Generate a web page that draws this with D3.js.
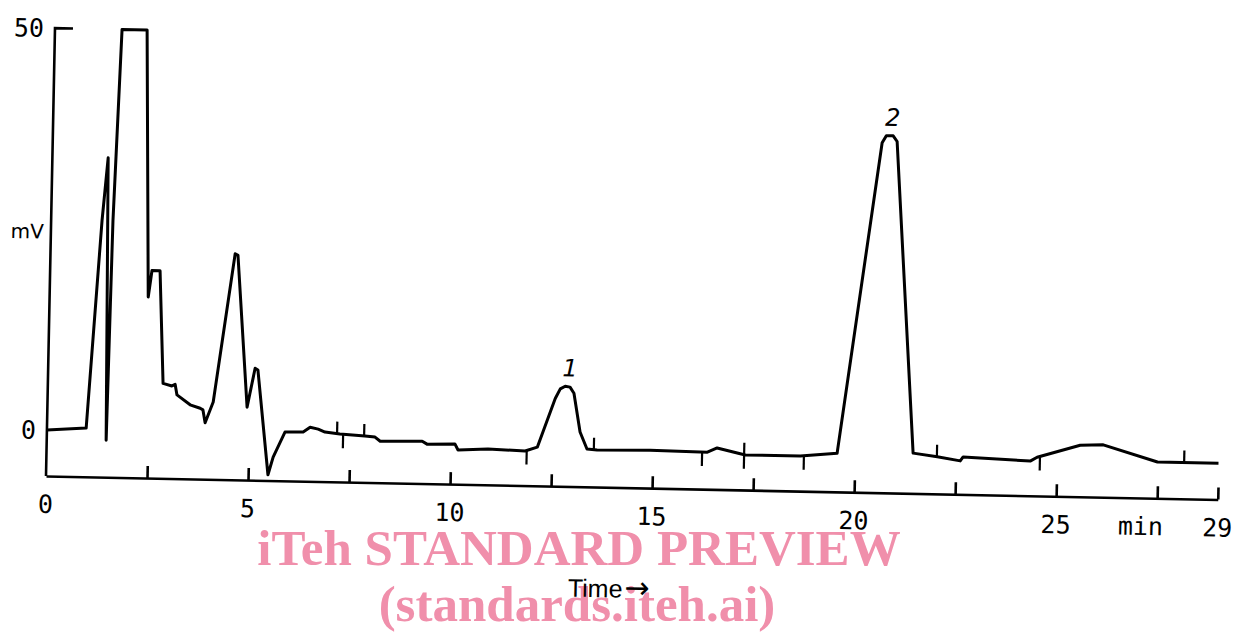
<!DOCTYPE html>
<meta charset="utf-8">
<style>
    body { margin: 0; background: #fff; }
    .trace { fill: none; stroke: #000; stroke-width: 3; stroke-linejoin: round; }
    .axis path, .axis line { stroke: #000; stroke-width: 2.6; fill: none; }
    .mark { stroke: #000; stroke-width: 2.2; }
    .lab { font-family: "DejaVu Sans Mono", monospace; font-size: 25px; fill: #000; }
    .peak { font-family: "DejaVu Sans", sans-serif; font-style: italic; font-size: 24px; fill: #000; }
    .stamp { font-family: "Liberation Serif", "Times New Roman", serif; font-weight: bold; font-size: 51px; fill: #f08fab; }
</style>
<svg width="1235" height="632"></svg>
<script src="https://d3js.org/d3.v7.min.js"></script>
<script>

// chromatogram trace (min / mV)
var time = [0, 0.97, 1.26, 1.38, 1.47, 1.53, 1.66, 2.28, 2.44, 2.52, 2.72, 2.85, 3.07, 3.15, 3.20,
    3.53, 3.78, 3.85, 3.91, 4.10, 4.57, 4.64, 4.94, 5.12, 5.19, 5.49, 5.61, 5.89, 6.34, 6.51,
    6.71, 6.88, 7.25, 7.87, 8.12, 8.25, 9.29, 9.41, 10.10, 10.18, 10.92, 11.84, 12.14, 12.56,
    12.68, 12.80, 12.92, 13.02, 13.19, 13.37, 13.62, 14.93, 16.17, 16.35, 16.59, 17.29, 18.65,
    19.56, 20.52, 20.62, 20.79, 20.89, 21.44, 22.04, 22.61, 22.68, 24.34, 24.51, 25.57, 26.14,
    27.49, 29];
var signal = [0, 0.35, 26.2, 34.0, -1.1, 26.2, 50, 50, 16.8, 20.1, 20.1, 6.1, 5.8, 6.0, 4.7,
    3.5, 3.1, 2.9, 1.3, 3.9, 22.4, 22.2, 3.35, 8.2, 8.0, -5.0, -2.8, 0.35, 0.4, 1.0,
    0.8, 0.45, 0.25, 0.05, -0.05, -0.55, -0.45, -0.8, -0.7, -1.45, -1.25, -1.4, -0.9, 5.2,
    6.4, 6.75, 6.65, 5.9, 1.1, -1.0, -1.1, -1.0, -1.1, -1.1, -0.55, -1.35, -1.35,
    -0.9, 37.8, 38.7, 38.7, 38.0, -0.7, -1.1, -1.55, -1.05, -1.4, -0.9, 0.7, 0.8,
    -1.2, -1.2];

// integrator event marks: 1 = up, -1 = down, 0 = both
var markTimes = [7.18, 7.33, 7.85, 11.88, 13.54, 16.22, 17.26, 18.74, 22.03, 24.58, 28.15];
var markSides = [1, -1, 1, -1, 1, -1, 0, -1, 1, -1, 1];

var peakNames = ["1", "2"];
var peakTimes = [12.86, 20.72];
var peakHeights = [6.75, 38.7];

var xTickValues = [2.5, 5, 7.5, 10, 12.5, 15, 17.5, 20, 22.5, 25, 27.5, 29];
var xLabelValues = [0, 5, 10, 15, 20, 25, 29];
var yLabelValues = [0, 50];

var svg = d3.select("svg"),
    margin = {top: 28, left: 46},
    width = 1172,
    height = 448;

// watermark sits under the chart
svg.append("text").attr("class", "stamp")
    .attr("x", 579).attr("y", 565)
    .attr("text-anchor", "middle")
    .text("iTeh STANDARD PREVIEW");
svg.append("text").attr("class", "stamp")
    .attr("x", 577).attr("y", 621)
    .attr("text-anchor", "middle")
    .text("(standards.iteh.ai)");

// the scanned chart is tilted a little
var g = svg.append("g")
    .attr("transform", "translate(" + margin.left + "," + margin.top + ") rotate(1.15,0," + height + ")");

var x = d3.scaleLinear().domain([0, 29]).range([0, width]);
var y = d3.scaleLinear().domain([-5.71, 50]).range([height, 0]);

// x axis, ticks pointing up
g.append("g")
    .attr("class", "axis")
    .attr("transform", "translate(0," + height + ")")
    .call(d3.axisBottom(x).tickValues(xTickValues).tickSize(-12).tickSizeOuter(0).tickFormat(""));

g.selectAll(".xlab")
    .data(xLabelValues)
    .enter().append("text")
    .attr("class", "lab")
    .attr("x", function (d) { return x(d); })
    .attr("y", height + 37)
    .attr("text-anchor", "middle")
    .text(function (d) { return d; });

g.append("text")
    .attr("class", "lab")
    .attr("x", x(27.1))
    .attr("y", height + 37)
    .attr("text-anchor", "middle")
    .text("min");

// y axis: plain line with a short tick at the top
g.append("path")
    .attr("d", "M0," + height + "V" + y(50) + "H18")
    .style("stroke", "#000").style("stroke-width", 2.6).style("fill", "none");

g.selectAll(".ylab")
    .data(yLabelValues)
    .enter().append("text")
    .attr("class", "lab")
    .attr("x", -11)
    .attr("y", function (d) { return y(d); })
    .attr("dy", "0.36em")
    .attr("text-anchor", "end")
    .text(function (d) { return d; });

g.append("text")
    .attr("x", -7)
    .attr("y", y(24.7))
    .attr("dy", "0.36em")
    .attr("text-anchor", "end")
    .style("font-family", "DejaVu Sans, sans-serif")
    .style("font-size", "20px")
    .text("mV");

var tl = g.append("text")
    .attr("x", 524)
    .attr("y", height + 110)
    .style("font-family", "Liberation Sans, Arial, sans-serif")
    .style("font-size", "25px");
tl.append("tspan").text("Time");
tl.append("tspan")
    .attr("dx", 2)
    .style("font-family", "DejaVu Sans, sans-serif")
    .style("font-size", "30px")
    .text("\u2192");

// trace
var line = d3.line()
    .x(function (d) { return x(d[0]); })
    .y(function (d) { return y(d[1]); });

g.append("path")
    .datum(d3.zip(time, signal))
    .attr("class", "trace")
    .attr("d", line);

// event marks sit on the trace
var bis = d3.bisector(function (d) { return d; }).right;
function valueAt(t) {
    var i = Math.max(1, Math.min(time.length - 1, bis(time, t)));
    var f = (t - time[i - 1]) / (time[i] - time[i - 1]);
    return signal[i - 1] + f * (signal[i] - signal[i - 1]);
}

g.selectAll(".mark")
    .data(markTimes)
    .enter().append("line")
    .attr("class", "mark")
    .attr("x1", function (d) { return x(d); })
    .attr("x2", function (d) { return x(d); })
    .attr("y1", function (d, i) { return y(valueAt(d)) + (markSides[i] === 1 ? 0 : 14); })
    .attr("y2", function (d, i) { return y(valueAt(d)) - (markSides[i] === -1 ? 0 : 12); });

g.selectAll(".peak")
    .data(peakNames)
    .enter().append("text")
    .attr("class", "peak")
    .attr("x", function (d, i) { return x(peakTimes[i]) + 2; })
    .attr("y", function (d, i) { return y(peakHeights[i]) - 10; })
    .attr("text-anchor", "middle")
    .text(function (d) { return d; });

</script>
